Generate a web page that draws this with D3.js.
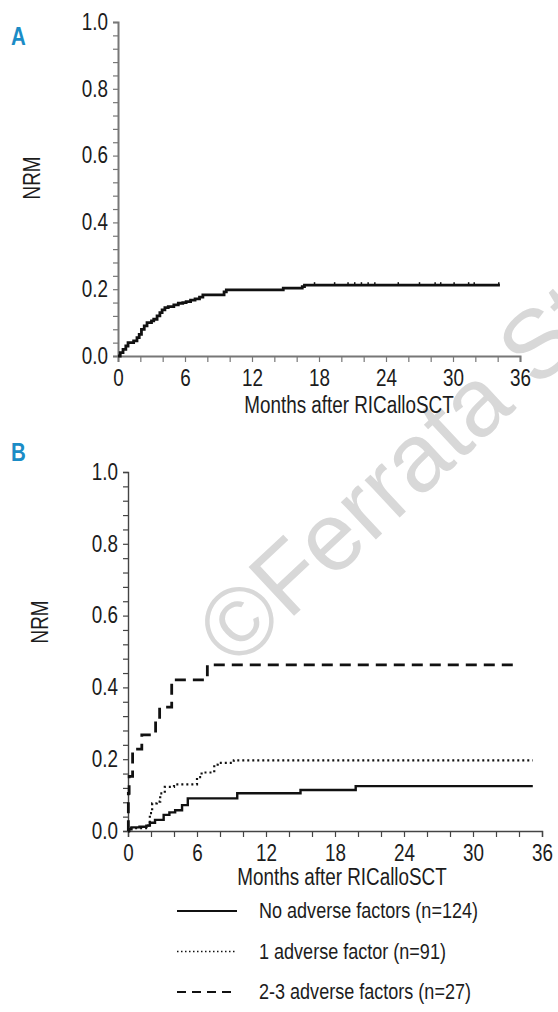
<!DOCTYPE html>
<html>
<head>
<meta charset="utf-8">
<script src="https://cdn.jsdelivr.net/npm/d3@7"></script>
<style>
  body { margin: 0; background: #fff; }
  svg text { font-family: "Liberation Sans", Arial, sans-serif; }
</style>
</head>
<body>
<svg id="chart" width="558" height="1012"></svg>
<script>
// tick labels
const monthTicks = [0, 6, 12, 18, 24, 30, 36];
const nrmTicks = [0, 0.2, 0.4, 0.6, 0.8, 1.0];

// panel A: all patients
const aTime = [0, 0.2, 0.45, 0.7, 0.9, 1.4, 1.7, 1.9, 2.1, 2.35, 2.6, 3.0, 3.2, 3.5, 3.75, 3.95, 4.2, 4.5, 5.0, 5.4, 5.8, 6.1, 6.5, 6.9, 7.3, 7.6, 9.5, 9.7, 14.8, 16.5, 16.7, 34.2];
const aNrm = [0, 0.01, 0.02, 0.03, 0.04, 0.045, 0.055, 0.065, 0.08, 0.09, 0.1, 0.105, 0.11, 0.12, 0.13, 0.138, 0.145, 0.148, 0.153, 0.158, 0.16, 0.163, 0.167, 0.171, 0.176, 0.183, 0.192, 0.198, 0.203, 0.208, 0.212, 0.212];
const aCensor = [17.6, 19.4, 20.6, 21.2, 21.8, 22.4, 23.0, 25.1, 27.0, 28.4, 28.9, 30.1, 31.4, 31.9, 34.1];

// panel B: by number of adverse factors
const bNoTime = [0, 0.1, 0.3, 1.0, 1.6, 1.9, 2.35, 3.1, 3.6, 4.1, 4.7, 5.2, 9.5, 15.0, 19.8, 35.2];
const bNoNrm = [0, 0.005, 0.01, 0.012, 0.015, 0.023, 0.031, 0.045, 0.052, 0.058, 0.072, 0.091, 0.105, 0.114, 0.125, 0.125];
const bOneTime = [0, 0.1, 1.75, 1.9, 2.1, 2.5, 2.8, 3.2, 4.0, 6.0, 6.4, 7.5, 7.8, 9.2, 35.2];
const bOneNrm = [0, 0.008, 0.015, 0.05, 0.077, 0.082, 0.105, 0.123, 0.13, 0.15, 0.163, 0.185, 0.19, 0.197, 0.197];
const bTwoTime = [0, 0.03, 0.1, 0.4, 1.2, 2.4, 2.75, 3.8, 6.9, 33.6];
const bTwoNrm = [0, 0.105, 0.152, 0.228, 0.268, 0.305, 0.345, 0.421, 0.463, 0.463];

const legendLabels = ["No adverse factors (n=124)", "1 adverse factor (n=91)", "2-3 adverse factors (n=27)"];

const svg = d3.select("#chart");
const NARROW = 0.82;

// squeeze text horizontally to get a condensed look
function narrow(sel) {
  sel.each(function () {
    let t = d3.select(this);
    let xv = +t.attr("x") || 0;
    t.attr("x", xv / NARROW);
    let tr = t.attr("transform") || "";
    t.attr("transform", tr + " scale(" + NARROW + ",1)");
  });
}

// watermark
svg.append("text")
  .attr("transform", "translate(236,670) rotate(-43)")
  .attr("font-size", 97)
  .attr("fill", "#d8d8d8")
  .text("\u00A9Ferrata Storti");

function drawPanel(p) {
  let x = d3.scaleLinear().domain([0, 36]).range([p.x0, p.x1]);
  let y = d3.scaleLinear().domain([0, 1]).range([p.y0, p.y1]);

  let isMajorY = d => nrmTicks.some(v => Math.abs(v - d) < 1e-6);
  let yMinor = d3.range(0, 26).map(i => i * 0.04);
  let xMinor = d3.range(0, 19).map(i => i * 2);

  let gy = svg.append("g")
    .attr("transform", "translate(" + p.x0 + ",0)")
    .call(d3.axisLeft(y).tickValues(yMinor).tickSizeOuter(0).tickSize(5).tickPadding(5)
      .tickFormat(d => isMajorY(d) ? d3.format(".1f")(d) : ""));

  let gx = svg.append("g")
    .attr("transform", "translate(0," + p.y0 + ")")
    .call(d3.axisBottom(x).tickValues(xMinor).tickSizeOuter(0).tickSize(6).tickPadding(8)
      .tickFormat(d => monthTicks.includes(d) ? d : ""));

  [gx, gy].forEach(g => {
    g.select(".domain").attr("stroke", p.axisColor).attr("stroke-width", p.axisWidth);
    g.selectAll(".tick line").attr("stroke", p.axisColor).attr("stroke-width", 1.2);
    g.selectAll(".tick text").attr("font-size", 23).attr("fill", "#1c1c1c")
      .style("font-family", "'Liberation Sans', Arial, sans-serif").call(narrow);
  });

  svg.append("text")
    .attr("x", (p.x0 + p.x1) / 2 - p.titleShift)
    .attr("y", p.y0 + p.titleDy)
    .attr("text-anchor", "middle")
    .attr("font-size", 23)
    .attr("fill", "#1c1c1c")
    .text("Months after RICalloSCT")
    .call(narrow);

  svg.append("text")
    .attr("transform", "translate(" + p.nrmX + "," + p.nrmY + ") rotate(-90)")
    .attr("text-anchor", "middle")
    .attr("font-size", 23)
    .attr("fill", "#1c1c1c")
    .text("NRM")
    .call(narrow);

  svg.append("text")
    .attr("x", p.labelX)
    .attr("y", p.labelY)
    .attr("font-size", 25)
    .attr("font-weight", "bold")
    .attr("fill", "#1b8cc6")
    .text(p.label)
    .call(narrow);

  return { x: x, y: y };
}

function stepLine(times, vals, sc) {
  return d3.line()
    .x(d => sc.x(d[0]))
    .y(d => sc.y(d[1]))
    .curve(d3.curveStepAfter)(d3.zip(times, vals));
}

// panel A
let A = drawPanel({ x0: 118, x1: 520, y0: 356, y1: 22, axisColor: "#777", axisWidth: 2,
  titleShift: -30, titleDy: 57, nrmX: 40, nrmY: 178, labelX: 11, labelY: 45, label: "A" });

svg.append("path")
  .attr("d", stepLine(aTime, aNrm, A))
  .attr("fill", "none")
  .attr("stroke", "#111")
  .attr("stroke-width", 2.8);

svg.append("g").selectAll("line")
  .data(aCensor)
  .enter().append("line")
  .attr("x1", d => A.x(d)).attr("x2", d => A.x(d))
  .attr("y1", A.y(0.212)).attr("y2", A.y(0.212) - 3)
  .attr("stroke", "#111")
  .attr("stroke-width", 1.5);

// panel B
let B = drawPanel({ x0: 128, x1: 542, y0: 831, y1: 472, axisColor: "#444", axisWidth: 1.4,
  titleShift: -7, titleDy: 54, nrmX: 48, nrmY: 622, labelX: 11, labelY: 461, label: "B" });

let series = [
  { t: bNoTime, v: bNoNrm, dash: null, w: 2.4 },
  { t: bOneTime, v: bOneNrm, dash: "2,3", w: 2.2 },
  { t: bTwoTime, v: bTwoNrm, dash: "11,7", w: 2.8 }
];

series.forEach(s => {
  svg.append("path")
    .attr("d", stepLine(s.t, s.v, B))
    .attr("fill", "none")
    .attr("stroke", "#111")
    .attr("stroke-width", s.w)
    .attr("stroke-dasharray", s.dash);
});

// legend
let legend = svg.append("g").attr("transform", "translate(177,911)");
legendLabels.forEach((lab, i) => {
  let row = legend.append("g").attr("transform", "translate(0," + (i * 40.5) + ")");
  row.append("line")
    .attr("x1", 0).attr("x2", 60).attr("y1", 0).attr("y2", 0)
    .attr("stroke", "#111")
    .attr("stroke-width", i == 1 ? 1.6 : 2)
    .attr("stroke-dasharray", series[i].dash ? (i == 1 ? "1.5,2.5" : "9,6") : null);
  row.append("text")
    .attr("x", 82).attr("y", 7)
    .attr("font-size", 22)
    .attr("fill", "#1c1c1c")
    .text(lab)
    .call(narrow);
});
</script>
</body>
</html>
